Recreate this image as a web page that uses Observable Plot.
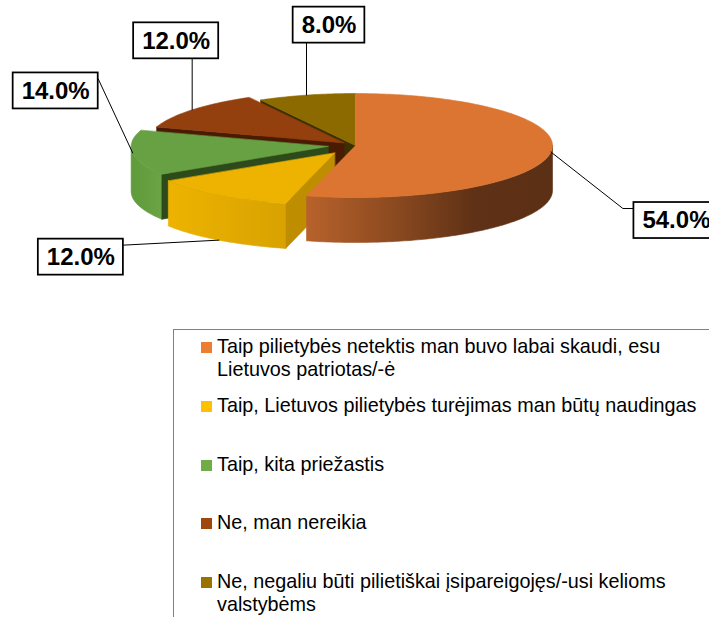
<!DOCTYPE html>
<html>
<head>
<meta charset="utf-8">
<script src="https://cdn.jsdelivr.net/npm/d3@7"></script>
<script src="https://cdn.jsdelivr.net/npm/@observablehq/plot@0.6"></script>
<style>
html, body { margin: 0; padding: 0; background: #fff; overflow: hidden; width: 709px; height: 617px; }
#chart svg { display: block; }
#legend {
  margin: 9px 0 0 173px; width: 560px; height: 300px; box-sizing: border-box;
  border-left: 1px solid #808080; border-top: 1px solid #808080;
  padding-top: 5px;
  font-family: "Liberation Sans", Arial, sans-serif; font-size: 19.8px; line-height: 22.5px; color: #000;
}
.item { display: flex; height: 58.75px; padding-left: 27px; }
.sw { width: 11px; height: 11px; margin-top: 7px; margin-right: 5px; flex: none; }
.tx { white-space: pre-line; }
</style>
</head>
<body>
<div id="chart"></div>
<div id="legend"></div>
<script>
// ---------- data ----------
const categories = [
  "Taip pilietybės netektis man buvo labai skaudi, esu\nLietuvos patriotas/-ė",
  "Taip, Lietuvos pilietybės turėjimas man būtų naudingas",
  "Taip, kita priežastis",
  "Ne, man nereikia",
  "Ne, negaliu būti pilietiškai įsipareigojęs/-usi kelioms\nvalstybėms"
];
const values = [54.0, 12.0, 14.0, 12.0, 8.0];
const valueLabels = values.map(v => d3.format(".1f")(v) + "%");

// ---------- styles / layout ----------
const legendColors = ["#ED7D31", "#FFC000", "#70AD47", "#9E480E", "#997300"];
const topColors    = ["#DC7531", "#EDB300", "#67A143", "#93400E", "#8C6A00"];
const sideColors   = ["url(#gOrange)", "url(#gYellow)", "url(#gGreen)", "#6E3008", "#6A5200"];
const startWallColors = ["#6A3514", "#BF8E00", "#2D4A1B", "#4A1B03", "#3D3000"];
const explode = [0, 0.18, 0.14, 0.076, 0];
const drawOrder = [4, 3, 2, 1, 0];
const labelOffsetPx = [[125.5, 68.5], [-138, 17], [-77, -62], [-16, -69], [22.5, -70]];

const W = 709, H = 320;
const rxPx = 197, cxPx = 355, cyPx = 145;
const tilt = 52 / 197, depth = 45 / 197;
const u = px => px / rxPx;

// ---------- geometry ----------
const arcs = d3.pie().sort(null).value(d => d)(values);
const polys = [];
const attach = [];
arcs.forEach((a, i) => {
  const a0 = a.startAngle, a1 = a.endAngle, mid = (a0 + a1) / 2;
  const ox = explode[i] * Math.sin(mid), oy = -explode[i] * Math.cos(mid) * tilt;
  const pt = (ang, h) => ({x: Math.sin(ang) + ox, y: -Math.cos(ang) * tilt + oy + h});
  const ctr = h => ({x: ox, y: oy + h});
  const arc = (b0, b1, h) => {
    const n = Math.max(2, Math.ceil((b1 - b0) / (Math.PI / 180)));
    return d3.range(n + 1).map(k => pt(b0 + (b1 - b0) * k / n, h));
  };
  const parts = [];
  const w0 = Math.max(a0, Math.PI / 2), w1 = Math.min(a1, 3 * Math.PI / 2);
  if (w1 > w0) parts.push({pts: [...arc(w0, w1, 0), ...arc(w0, w1, depth).reverse()], fill: sideColors[i]});
  if (Math.sin(a0) < -1e-6) parts.push({pts: [ctr(0), pt(a0, 0), pt(a0, depth), ctr(depth)], fill: startWallColors[i]});
  if (Math.sin(a1) > 1e-6) parts.push({pts: [ctr(0), pt(a1, 0), pt(a1, depth), ctr(depth)], fill: startWallColors[i]});
  parts.push({pts: [ctr(0), ...arc(a0, a1, 0)], fill: topColors[i]});
  polys[i] = parts;
  attach[i] = pt(mid, -Math.cos(mid) > 0.5 ? depth : 0);
});

// ---------- labels ----------
const ctx = document.createElement("canvas").getContext("2d");
ctx.font = "bold 24px 'Liberation Sans', Arial";
const boxes = valueLabels.map((t, i) => {
  const w = u(ctx.measureText(t).width + 17), h = u(36);
  const cx = attach[i].x + u(labelOffsetPx[i][0]), cy = attach[i].y + u(labelOffsetPx[i][1]);
  return {label: t, cx, cy, x1: cx - w / 2, x2: cx + w / 2, y1: cy - h / 2, y2: cy + h / 2};
});
const leaders = [];
boxes.forEach((b, i) => {
  const p = attach[i];
  let end, elbow = null;
  if (p.x > b.x2) end = {x: b.x2, y: b.y1 + u(6)};
  else if (p.x < b.x1) end = {x: b.x1, y: b.y1 + u(6)};
  else end = {x: p.x, y: p.y > b.y2 ? b.y2 : b.y1};
  if (p.x < b.x1 && p.y < b.y1 - u(10)) elbow = {x: end.x - u(11), y: end.y};
  leaders.push({id: i, ...p});
  if (elbow) leaders.push({id: i, ...elbow});
  leaders.push({id: i, ...end});
});

// ---------- marks ----------
const marks = [];
drawOrder.forEach(i => {
  polys[i].forEach(p => {
    marks.push(Plot.line(p.pts, {x: "x", y: "y", fill: p.fill, stroke: p.fill, strokeWidth: 0.6, curve: "linear-closed"}));
  });
});
marks.push(Plot.line(leaders, {x: "x", y: "y", z: "id", stroke: "black", strokeWidth: 1}));
marks.push(Plot.rect(boxes, {x1: "x1", x2: "x2", y1: "y1", y2: "y2", fill: "white", stroke: "black", strokeWidth: 1.75}));
marks.push(Plot.text(boxes, {x: "cx", y: "cy", text: "label", fontSize: 24, fontWeight: "bold", fill: "black"}));

const svg = Plot.plot({
  width: W, height: H,
  margin: 0,
  style: {fontFamily: "'Liberation Sans', Arial, sans-serif", background: "white", overflow: "hidden"},
  x: {domain: [u(-cxPx), u(W - cxPx)], range: [0, W], axis: null},
  y: {domain: [u(-cyPx), u(H - cyPx)], range: [0, H], axis: null},
  marks
});

const defs = d3.select(svg).insert("defs", ":first-child");
function lin(id, stops) {
  const g = defs.append("linearGradient").attr("id", id)
    .attr("x1", "0").attr("x2", "1").attr("y1", "0").attr("y2", "0");
  stops.forEach(([o, c]) => g.append("stop").attr("offset", o).attr("stop-color", c));
}
lin("gOrange", [[0, "#B8622B"], [0.35, "#8C4A20"], [0.68, "#5F3116"], [1, "#5C3015"]]);
lin("gYellow", [[0, "#EEB300"], [1, "#D8A200"]]);
lin("gGreen", [[0, "#5F9A3B"], [1, "#6AA444"]]);

document.getElementById("chart").appendChild(svg);

// ---------- legend ----------
const legend = d3.select("#legend");
categories.forEach((c, i) => {
  const it = legend.append("div").attr("class", "item");
  it.append("div").attr("class", "sw").style("background", legendColors[i]);
  it.append("div").attr("class", "tx").text(c);
});
</script>
</body>
</html>
